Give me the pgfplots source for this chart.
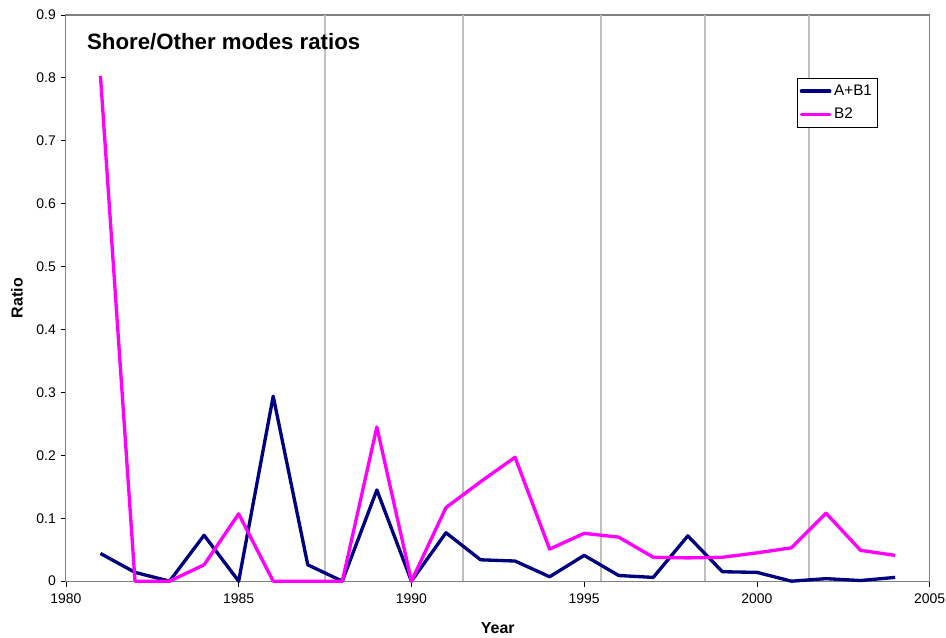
\documentclass[border=0pt]{standalone}
\usepackage{pgfplots}
\pgfplotsset{compat=1.18}
\usepackage{fontspec}
\setmainfont{Liberation Sans}
\definecolor{navyc}{HTML}{000080}
\definecolor{magc}{HTML}{FF00FF}
\definecolor{gridc}{HTML}{C0C0C0}
\begin{document}
\begin{tikzpicture}
\path[use as bounding box] (-49.5pt,-42pt) rectangle (661pt,436.5pt);
\begin{axis}[
  scale only axis,
  width=648.75pt, height=425.25pt,
  xmin=1980, xmax=2005, ymin=0, ymax=0.9,
  xtick={1980,1985,...,2005},
  ytick={0,0.1,...,0.9},
  /pgf/number format/assume math mode=true,
  /pgf/number format/1000 sep={},
  yticklabel style={/pgf/number format/fixed},
  xticklabel style={yshift=-2pt},
  tick label style={font=\fontsize{10.5}{12}\selectfont, black},
  tick align=outside,
  xtick pos=bottom, ytick pos=left,
  major tick length=4pt,
  tick style={black, line width=0.6pt},
  axis line style={draw=gray, line width=0.8pt},
  extra x ticks={1987.5,1991.5,1995.5,1998.5,2001.5},
  extra x tick labels={},
  extra x tick style={grid=major, major grid style={draw=gridc, line width=1.5pt}, major tick length=0pt},
  xlabel={\textbf{Year}},
  ylabel={\textbf{Ratio}},
  label style={font=\fontsize{12}{14}\selectfont},
  xlabel style={at={([yshift=-35.25pt]rel axis cs:0.5,0)}, anchor=center},
  ylabel style={at={([xshift=-36.75pt]rel axis cs:0,0.5)}, anchor=center},
  legend style={at={(rel axis cs:0.846,0.889)}, anchor=north west, draw=black, line width=0.6pt,
    font=\fontsize{11.5}{13}\selectfont, inner xsep=2pt, inner ysep=3pt, row sep=4pt, cells={anchor=west}},
  legend image code/.code={\draw[#1, line cap=round] (0cm,0cm) -- (0.75cm,0cm);},
  clip=false,
]
\addplot[navyc, line width=2.5pt, line join=round] coordinates {
(1981,0.044) (1982,0.014) (1983,0.0) (1984,0.073) (1985,0.0) (1986,0.294)
(1987,0.026) (1988,0.0) (1989,0.145) (1990,0.0) (1991,0.077) (1992,0.034)
(1993,0.032) (1994,0.007) (1995,0.041) (1996,0.009) (1997,0.006) (1998,0.072)
(1999,0.015) (2000,0.014) (2001,0.0) (2002,0.004) (2003,0.001) (2004,0.006)
};
\addlegendentry{A+B1}
\addplot[magc, line width=2.5pt, line join=round] coordinates {
(1981,0.803) (1982,0.0) (1983,0.0) (1984,0.026) (1985,0.107) (1986,0.0)
(1987,0.0) (1988,0.0) (1989,0.245) (1990,0.0) (1991,0.117) (1992,0.158)
(1993,0.197) (1994,0.051) (1995,0.076) (1996,0.070) (1997,0.038) (1998,0.037)
(1999,0.038) (2000,0.045) (2001,0.053) (2002,0.108) (2003,0.049) (2004,0.041)
};
\addlegendentry{B2}
\node[anchor=west, inner sep=0pt, font=\bfseries\fontsize{16.7}{19}\selectfont] at (rel axis cs:0.0243,0.952) {Shore/Other modes ratios};
\end{axis}
\end{tikzpicture}
\end{document}
